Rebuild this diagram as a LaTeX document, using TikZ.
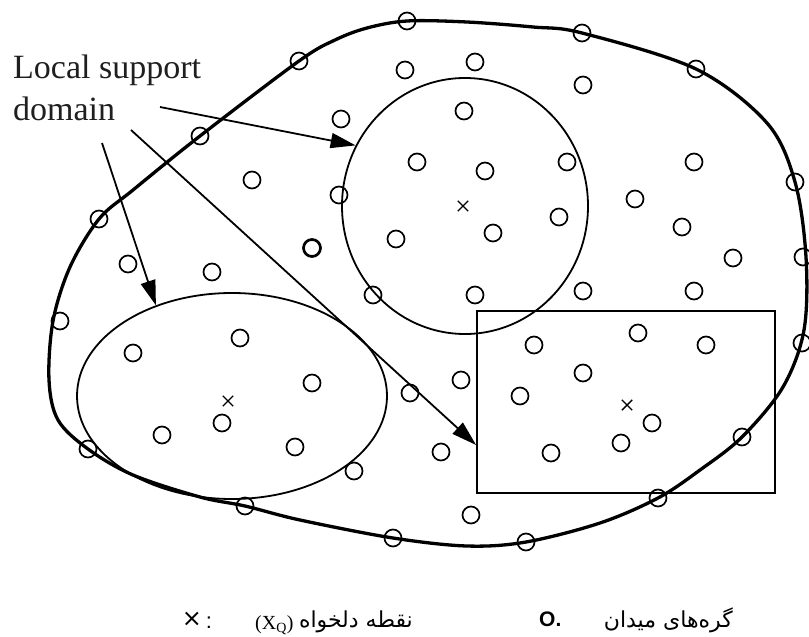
\documentclass[tikz,border=0pt]{standalone}
\usepackage{fontspec}
\setmainfont{Liberation Serif}
\newfontfamily\arabicfont[Script=Arabic]{DejaVu Sans}
\newfontfamily\sansfont{Liberation Sans}
\TeXXeTstate=1
\usetikzlibrary{shapes.geometric,shapes.misc,arrows.meta}

\begin{document}
\begin{tikzpicture}[x=1pt,y=-1pt,
  fnode/.style={circle,draw,line width=1.7pt,minimum size=17pt,inner sep=0pt},
  boldnode/.style={fnode,line width=2.7pt},
  qpoint/.style={cross out,draw,line width=1.4pt,minimum size=9pt,inner sep=0pt},
  domainline/.style={draw,line width=1.8pt,inner sep=0pt},
  pointer/.style={line width=1.8pt,-{Triangle[length=25pt,width=15pt]}},
  boundary/.style={line width=3.3pt},
  labeltext/.style={font=\fontsize{34}{40}\selectfont,text=black!88,inner sep=0pt},
  legendtext/.style={font=\fontsize{20}{22}\selectfont,inner sep=0pt},
  persian/.style={font=\arabicfont\fontsize{22}{26}\selectfont,inner sep=0pt},
]
\useasboundingbox (0,0) rectangle (809,637);
\fill[white] (0,0) rectangle (809,637);

% problem domain boundary
\draw[boundary] plot[smooth cycle, tension=0.55] coordinates {
  (407,21) (467,22) (533,27) (582,33) (696,69) (767,123) (795,182) (806,257)
  (804,330) (783,387) (742,437) (700,470) (658,498) (600,523) (526,542)
  (467,546) (393,538) (300,520) (245,506) (200,497) (133,475) (88,449)
  (58,420) (49,380) (53,321) (70,267) (99,219) (133,190) (200,136)
  (299,61) (335,40) (367,28)};

% local support domains
\node[domainline,ellipse,minimum width=310pt,minimum height=206pt] (dEll) at (232,396) {};
\node[domainline,ellipse,minimum width=246pt,minimum height=256pt] (dCirc) at (465,206) {};
\node[domainline,rectangle,minimum width=298pt,minimum height=182pt] (dRect) at (626,402) {};

% points of interest
\node[qpoint] (qEll) at (228,401) {};
\node[qpoint] (qCirc) at (463,206) {};
\node[qpoint] (qRect) at (627,405) {};

% field nodes
\foreach \x/\y [count=\i] in {
  407/21, 582/33, 696/69, 299/61, 200/136, 99/219, 795/182, 803/257,
  60/321, 802/343, 742/437, 88/449, 658/498, 245/506, 526/542, 393/538,
  405/70, 475/62, 583/85, 341/119, 464/111, 252/180, 417/162, 485/171,
  567/162, 694/162, 339/195, 635/199, 559/217, 682/227, 396/239, 493/233,
  733/258, 128/264, 212/272, 373/295, 475/295, 583/291, 694/291,
  133/353, 240/338, 312/383, 222/423, 162/435, 295/447, 354/471,
  410/393, 461/380, 441/452, 534/345, 638/333, 706/345, 583/373,
  520/396, 652/423, 621/443, 551/453, 471/515}
  \node[fnode] (f\i) at (\x,\y) {};
\node[boldnode] (fb) at (312,248) {};

% label and pointers
\node[labeltext,anchor=base west] (lab1) at (13,78) {Local support};
\node[labeltext,anchor=base west] (lab2) at (13,120) {domain};
\coordinate (s1) at (160,107);
\coordinate (s2) at (102,143);
\coordinate (s3) at (131,130);
\draw[pointer] (s1) -- (dCirc.151);
\draw[pointer] (s2) -- (dEll.130);
\draw[pointer] (s3) -- (dRect.196);

% legend
\node[font=\arabicfont\fontsize{24}{26}\selectfont,inner sep=0pt,anchor=base] (lgx) at (192,626) {×};
\node[font=\sansfont\fontsize{22}{24}\selectfont,inner sep=0pt,anchor=base] (lgc) at (209,628) {:};
\node[legendtext,anchor=base west] (lgq) at (255,629) {(X\textsubscript{Q})};
\node[persian,anchor=base east] (lgqt) at (413,627) {\beginR نقطه دلخواه\endR};
\node[font=\sansfont\bfseries\fontsize{21}{24}\selectfont,inner sep=0pt,anchor=base west] (lgo) at (539,626) {O.};
\node[persian,anchor=base east] (lgot) at (733,627) {\beginR گره^^^^200cهای میدان\endR};
\end{tikzpicture}
\end{document}
